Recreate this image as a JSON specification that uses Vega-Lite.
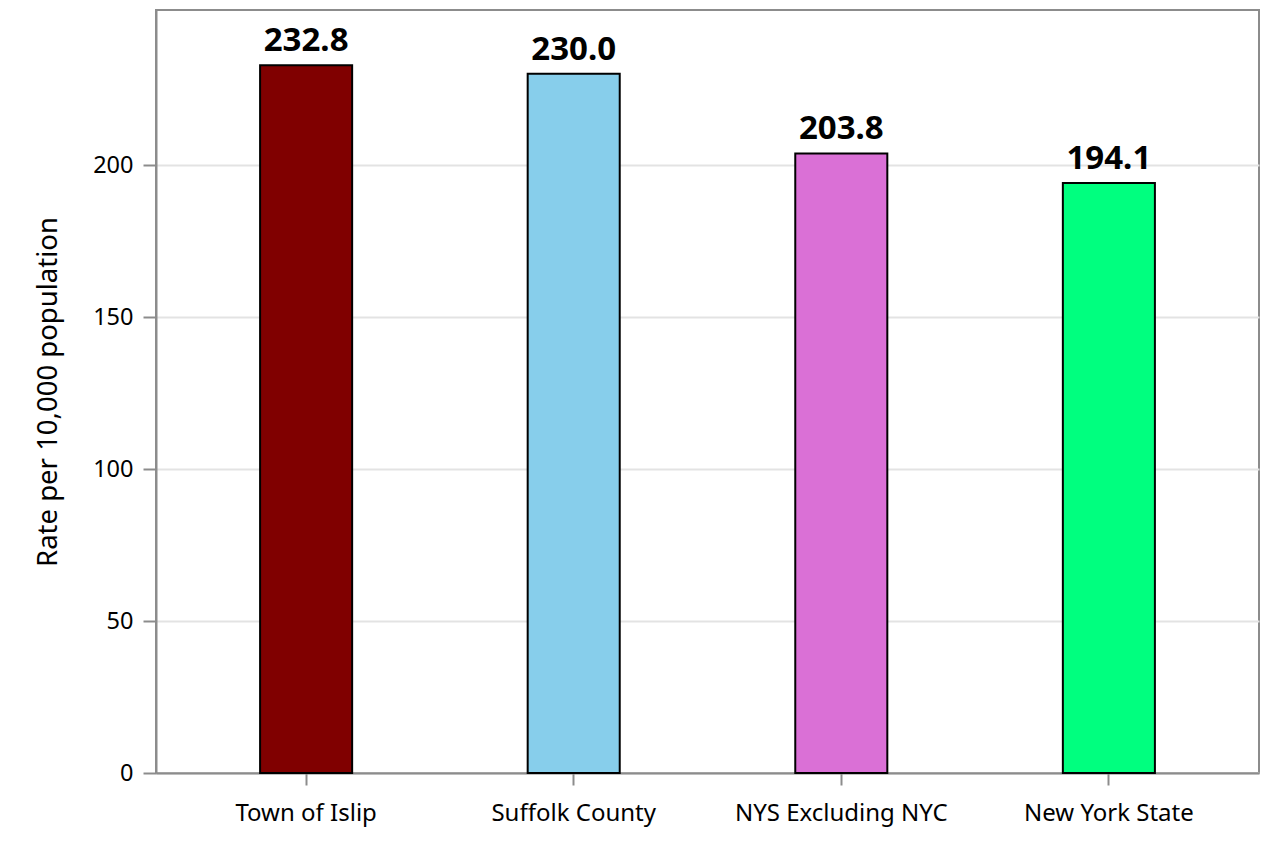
{
  "$schema": "https://vega.github.io/schema/vega-lite/v6.json",
  "width": 1103,
  "height": 763,
  "autosize": {"type": "none"},
  "padding": {"left": 156, "top": 10, "right": 24, "bottom": 77},
  "background": "white",
  "data": {"values": [
    {"area": "Town of Islip", "rate": 232.8, "label": "232.8"},
    {"area": "Suffolk County", "rate": 230.0, "label": "230.0"},
    {"area": "NYS Excluding NYC", "rate": 203.8, "label": "203.8"},
    {"area": "New York State", "rate": 194.1, "label": "194.1"}
  ]},
  "config": {
    "font": "Noto Sans",
    "view": {"stroke": "#8c8c8c", "strokeWidth": 2},
    "axis": {"domainColor": "#8c8c8c", "domainWidth": 2, "tickColor": "#8c8c8c", "tickWidth": 2, "labelColor": "black", "titleColor": "black", "labelFont": "Noto Sans", "titleFont": "Noto Sans"}
  },
  "encoding": {
    "x": {"field": "area", "type": "nominal", "sort": null,
      "scale": {"paddingInner": 0.656, "paddingOuter": 0.389},
      "axis": {"title": null, "labelAngle": 0, "labelFontSize": 24, "labelLimit": 500, "labelOverlap": false, "tickSize": 12, "labelPadding": 16, "grid": false}},
    "y": {"field": "rate", "type": "quantitative",
      "scale": {"domain": [0, 251], "nice": false},
      "axis": {"title": "Rate per 10,000 population", "values": [0, 50, 100, 150, 200], "labelFontSize": 23.5, "titleFontSize": 27.5, "titleFontWeight": "normal", "tickSize": 13, "labelPadding": 10, "titlePadding": 30, "gridColor": "#e3e3e3", "gridWidth": 2}}
  },
  "layer": [
    {"mark": {"type": "bar", "stroke": "black", "strokeWidth": 2},
      "encoding": {"color": {"field": "area", "type": "nominal", "sort": null, "legend": null,
        "scale": {"domain": ["Town of Islip", "Suffolk County", "NYS Excluding NYC", "New York State"], "range": ["#800000", "#87CEEB", "#DA70D6", "#00FF7F"]}}}},
    {"mark": {"type": "text", "baseline": "alphabetic", "dy": -14, "fontSize": 33, "fontWeight": "bold", "color": "black"},
      "encoding": {"text": {"field": "label"}}}
  ]
}
